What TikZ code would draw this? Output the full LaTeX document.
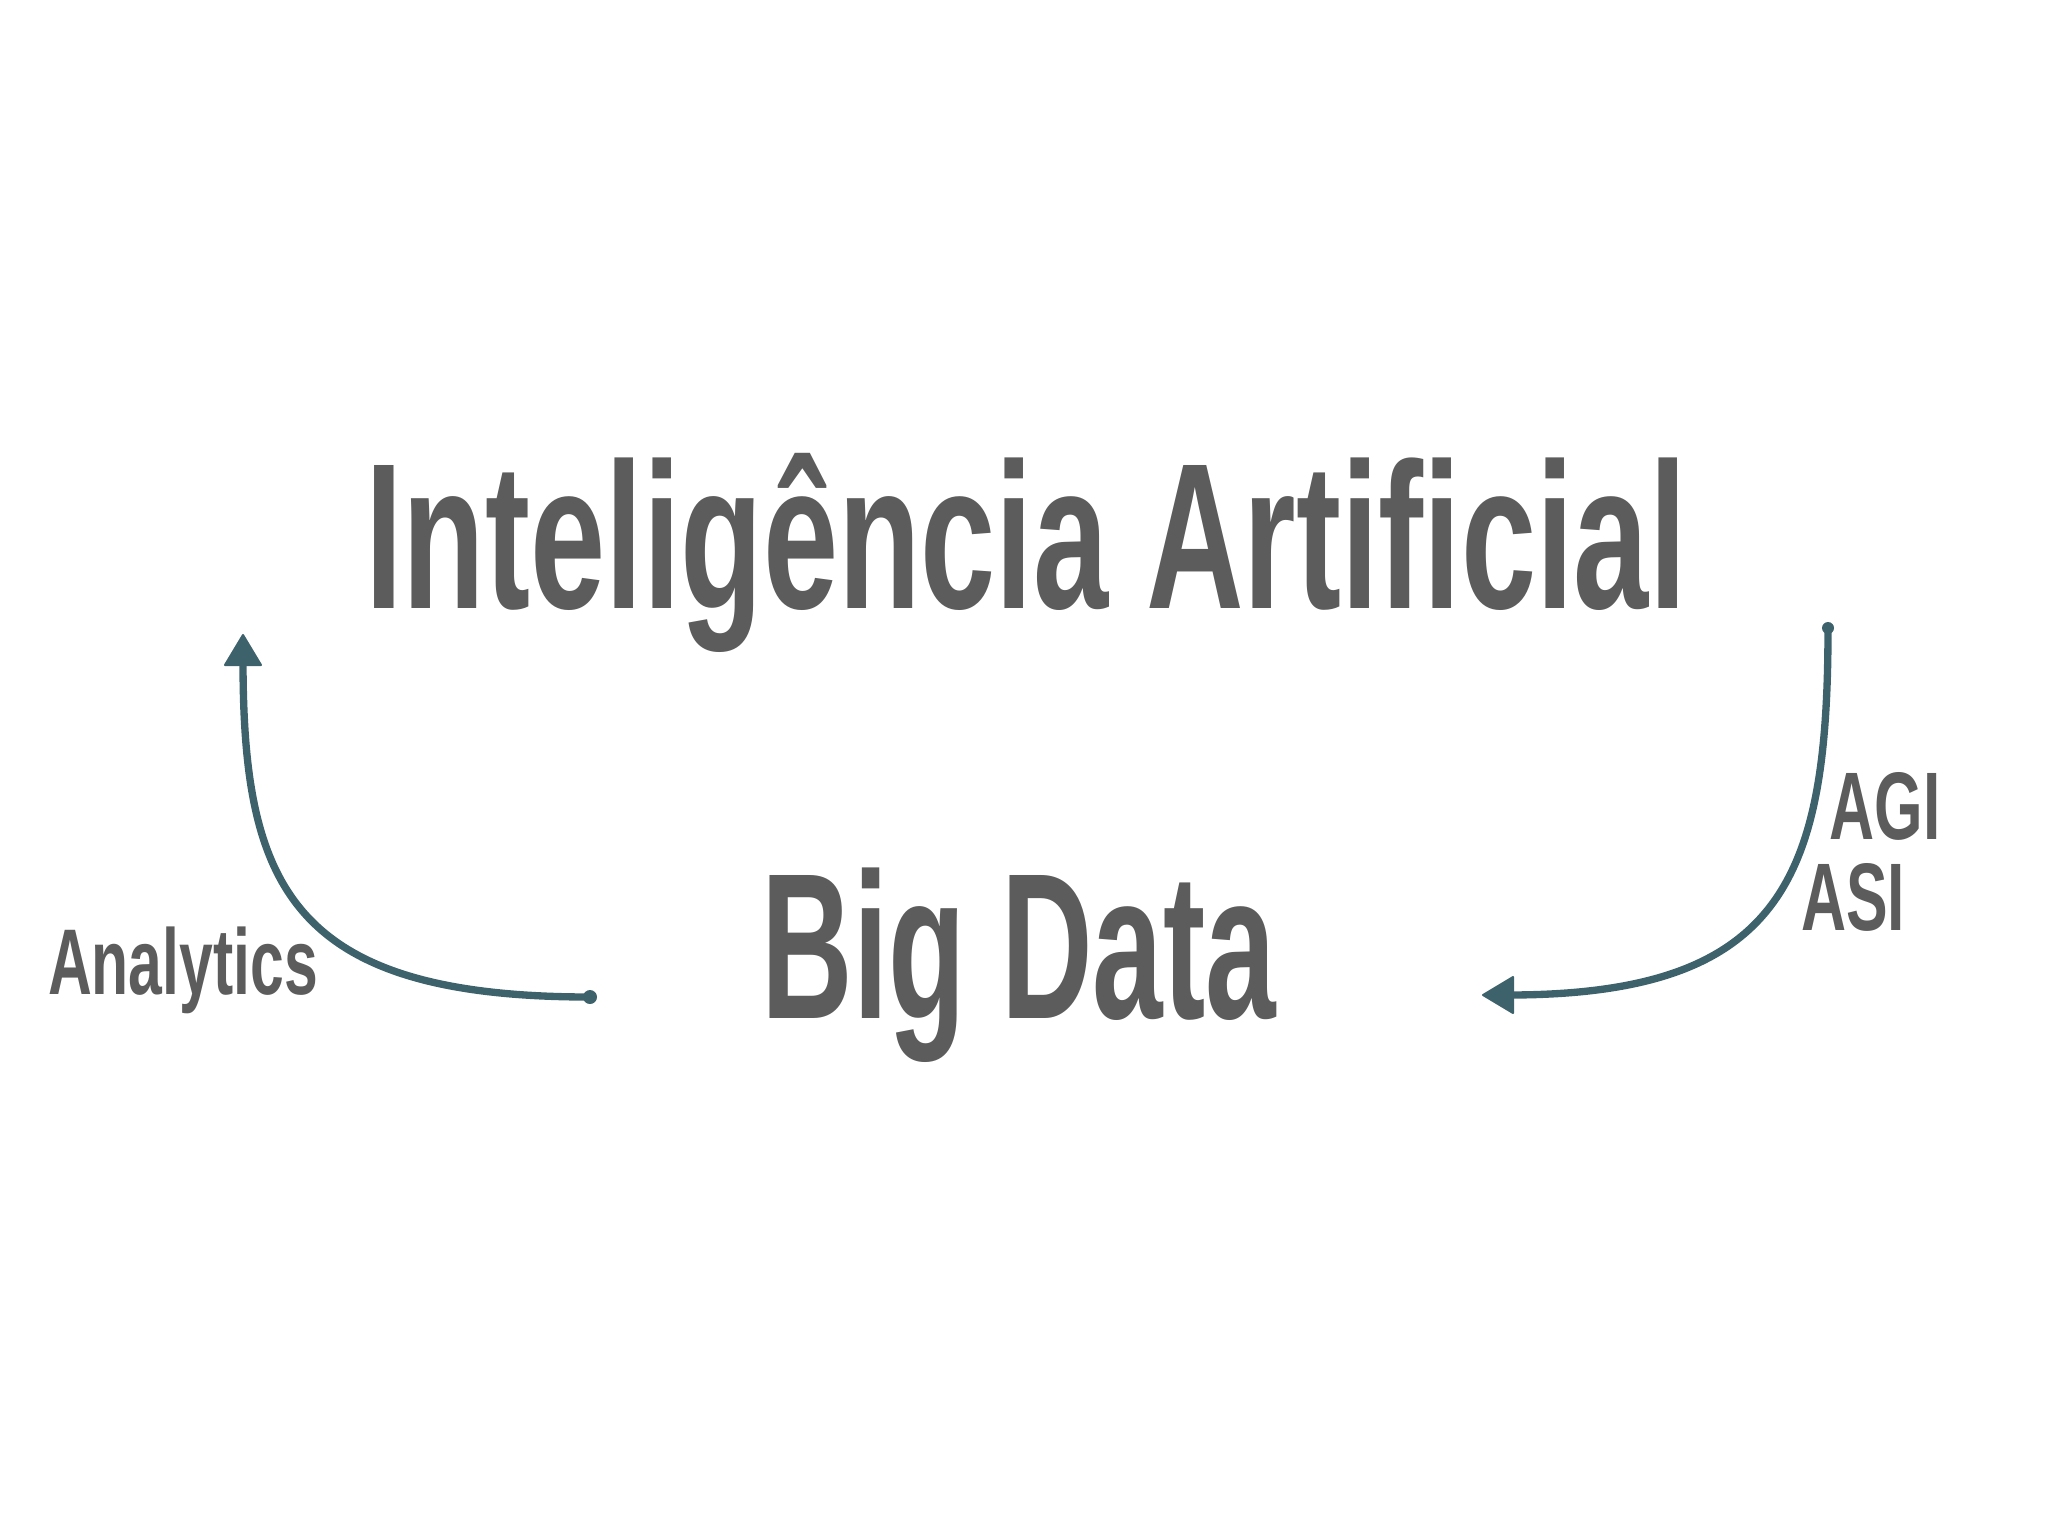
\documentclass[tikz,border=0pt]{standalone}
\usepackage{fontspec}
\newfontfamily\dinfont[FakeStretch=0.65]{Liberation Sans}
\newfontfamily\dinnarrow[FakeStretch=0.61]{Liberation Sans}
\definecolor{inkgray}{RGB}{92,92,92}
\definecolor{penteal}{RGB}{62,98,108}
\tikzset{every picture/.style={line width=0.75pt}}
\tikzset{
  penline/.style={draw=penteal, line width=5.5pt, line cap=round},
  penhead/.style={fill=penteal, draw=penteal, line width=1.5pt, line join=round},
  pendot/.style={fill=penteal, draw=none},
  bigword/.style={text=inkgray, inner sep=0.75pt, anchor=base, font=\dinfont\bfseries\fontsize{155.9}{160}\selectfont},
  smallword/.style={text=inkgray, inner sep=0.75pt, anchor=base, font=\dinfont\bfseries\fontsize{70}{72}\selectfont}
}

\begin{document}
\begin{tikzpicture}[x=0.75pt,y=0.75pt,yscale=-1,xscale=1]
%set diagram left start at 0, and has height of 1536
\useasboundingbox (0,0) rectangle (2048,1536);

% Text Node
\node (titel) [bigword] at (1026,608) {Inteligência Artificial};
% Text Node
\node (bigdata) [bigword,font=\dinnarrow\bfseries\fontsize{155.9}{160}\selectfont] at (1019,1018) {Big Data};
% Text Node
\node (analytics) [smallword] at (183,994) {Analytics};
% Text Node
\node (agi) [smallword,font=\dinfont\bfseries\fontsize{72}{74}\selectfont] at (1885,839) {AGI};
% Text Node
\node (asi) [smallword,font=\dinfont\bfseries\fontsize{72}{74}\selectfont] at (1853,930) {ASI};

%Coordinates [ends of the arrows]
\coordinate (anaStart) at (590,997);
\coordinate (anaTip) at (243,635);
\coordinate (anaBase) at (243,660);
\coordinate (agiStart) at (1828,628);
\coordinate (agiTip) at (1483,995);
\coordinate (agiBase) at (1508,995);

%Curve Lines [Analytics]
\draw [penline] (anaStart) .. controls (290,997) and (243,885) .. (anaBase) ;
\draw [penhead, shift={(anaTip)}, rotate=90] (0,0) -- (30,-18) -- (30,18) -- cycle ;
%Shape: Circle
\fill [pendot] (anaStart) circle (7) ;

%Curve Lines [AGI / ASI]
\draw [penline] (agiStart) .. controls (1828,878) and (1783,995) .. (agiBase) ;
\draw [penhead, shift={(agiTip)}, rotate=0] (0,0) -- (30,-18) -- (30,18) -- cycle ;
%Shape: Circle
\fill [pendot] (agiStart) circle (6) ;

\end{tikzpicture}
\end{document}
